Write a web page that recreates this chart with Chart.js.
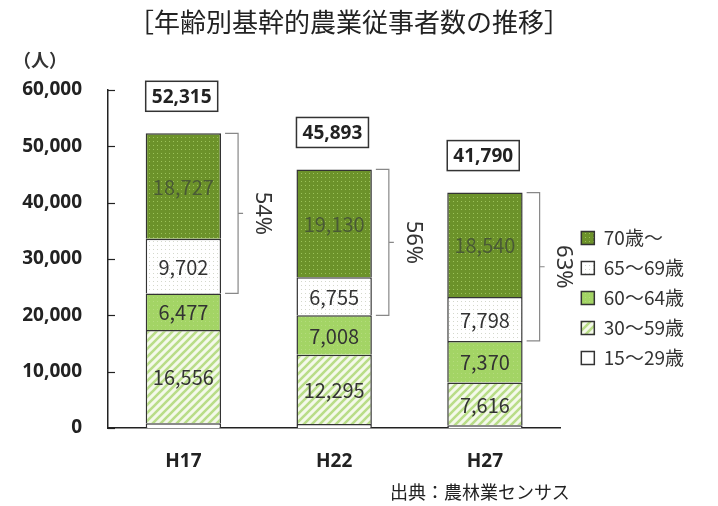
<!DOCTYPE html>
<html>
<head>
<meta charset="utf-8">
<script src="https://cdn.jsdelivr.net/npm/chart.js@4.4.0/dist/chart.umd.min.js"></script>
<style>
  html, body { margin: 0; padding: 0; background: #fff; }
  #wrap { position: relative; width: 718px; height: 506px; }
  #title { position: absolute; left: 0; top: 2px; width: 698px; text-align: center;
           font: 26px "Noto Sans CJK JP", sans-serif; color: #222; }
  #unit { position: absolute; left: 13px; top: 46px; font: bold 18px "Noto Sans CJK JP", sans-serif; color: #333; }
  #source { position: absolute; left: 390px; top: 478px; font: 18px "Noto Sans CJK JP", sans-serif; color: #222; }
  canvas { position: absolute; left: 0; top: 0; }
</style>
</head>
<body>
<div id="wrap">
  <canvas id="farmChart" width="718" height="506"></canvas>
  <div id="title">［年齢別基幹的農業従事者数の推移］</div>
  <div id="unit">（人）</div>
  <div id="source">出典：農林業センサス</div>
</div>
<script>
// values
var categories = ['H17', 'H22', 'H27'];
var age15_29 = [853, 705, 466];
var age30_59 = [16556, 12295, 7616];
var age60_64 = [6477, 7008, 7370];
var age65_69 = [9702, 6755, 7798];
var age70up = [18727, 19130, 18540];
var totals = [52315, 45893, 41790];
var seriesNames = ['15～29歳', '30～59歳', '60～64歳', '65～69歳', '70歳～'];
var yMax = 60000, yStep = 10000;

var FONT = '"Noto Sans CJK JP", "Noto Sans", sans-serif';

// small canvas patterns for the fills
function makePattern(w, h, draw) {
  var c = document.createElement('canvas');
  c.width = w; c.height = h;
  var g = c.getContext('2d');
  draw(g, w, h);
  return g.createPattern(c, 'repeat');
}
var ctx = document.getElementById('farmChart').getContext('2d');
var fill70 = makePattern(4, 4, function (g) {
  g.fillStyle = '#6c922a'; g.fillRect(0, 0, 4, 4);
  g.fillStyle = '#9cc35a'; g.fillRect(1, 1, 1, 1);
});
var fill65 = makePattern(4, 4, function (g) {
  g.fillStyle = '#ffffff'; g.fillRect(0, 0, 4, 4);
  g.fillStyle = '#d4d8cc'; g.fillRect(1, 1, 1, 1);
});
var fill60 = makePattern(4, 4, function (g) {
  g.fillStyle = '#a3d465'; g.fillRect(0, 0, 4, 4);
  g.fillStyle = '#b4dc7c'; g.fillRect(1, 1, 1, 1);
});
var fill30 = makePattern(8, 8, function (g) {
  g.fillStyle = '#f4f9ea'; g.fillRect(0, 0, 8, 8);
  g.strokeStyle = '#b9dd88'; g.lineWidth = 2.6;
  g.beginPath();
  g.moveTo(-2, 10); g.lineTo(10, -2);
  g.moveTo(-6, 6); g.lineTo(6, -6);
  g.moveTo(2, 14); g.lineTo(14, 2);
  g.stroke();
});
var fill15 = '#ffffff';

var fills = [fill15, fill30, fill60, fill65, fill70];
var seriesData = [age15_29, age30_59, age60_64, age65_69, age70up];

var datasets = [];
for (var s = 0; s < seriesData.length; s++) {
  datasets.push({
    label: seriesNames[s],
    data: seriesData[s],
    backgroundColor: fills[s],
    borderColor: '#333333',
    borderWidth: 1.5,
    barPercentage: 0.5,
    categoryPercentage: 1.0
  });
}

var fmt = function (v) { return Number(v).toLocaleString('en-US'); };

var extrasPlugin = {
  id: 'extras',
  afterLayout: function (chart) {
    var lg = chart.legend;
    lg.left += 10; lg.right += 10;
  },
  afterDatasetsDraw: function (chart) {
    var c = chart.ctx;
    var yScale = chart.scales.y;
    var area = chart.chartArea;
    c.save();
    // inward tick marks on the y axis
    c.strokeStyle = '#222'; c.lineWidth = 1.2;
    yScale.ticks.forEach(function (t, i) {
      var py = Math.round(yScale.getPixelForTick(i)) + 0.5;
      c.beginPath(); c.moveTo(area.left, py); c.lineTo(area.left + 7, py); c.stroke();
    });
    // segment value labels
    c.textAlign = 'center'; c.textBaseline = 'middle';
    c.font = '20px ' + FONT;
    for (var d = 1; d < chart.data.datasets.length; d++) {
      var meta = chart.getDatasetMeta(d);
      meta.data.forEach(function (bar, i) {
        var v = chart.data.datasets[d].data[i];
        c.fillStyle = d === 4 ? '#4a5a36' : '#333';
        c.fillText(fmt(v), bar.x, (bar.y + bar.base) / 2 + 1);
      });
    }
    // totals in boxes, brackets and share of 65+
    var topMeta = chart.getDatasetMeta(4);
    var m65 = chart.getDatasetMeta(3);
    topMeta.data.forEach(function (bar, i) {
      var half = bar.width / 2;
      var bw = 72, bh = 30;
      var bx = bar.x - half, by = bar.y - 22 - bh;
      c.fillStyle = '#fff';
      c.fillRect(bx, by, bw, bh);
      c.strokeStyle = '#333'; c.lineWidth = 1.5;
      c.strokeRect(bx, by, bw, bh);
      c.fillStyle = '#222';
      c.font = 'bold 19px "Noto Sans", sans-serif';
      c.fillText(fmt(totals[i]), bx + bw / 2, by + bh / 2 + 1);

      var right = bar.x + half;
      var top = bar.y, bottom = m65.data[i].base;
      var vx = right + 17;
      c.strokeStyle = '#888'; c.lineWidth = 1.2;
      c.beginPath();
      c.moveTo(right + 4, top); c.lineTo(vx, top); c.lineTo(vx, bottom); c.lineTo(right + 4, bottom);
      c.moveTo(vx, (top + bottom) / 2); c.lineTo(vx + 5, (top + bottom) / 2);
      c.stroke();

      var share = Math.round((age70up[i] + age65_69[i]) / totals[i] * 100) + '%';
      c.save();
      c.translate(right + 41, (top + bottom) / 2);
      c.rotate(Math.PI / 2);
      c.fillStyle = '#333';
      c.font = '22px "Noto Sans", sans-serif';
      c.fillText(share, 0, 0);
      c.restore();
    });
    c.restore();
  }
};

new Chart(ctx, {
  type: 'bar',
  data: { labels: categories, datasets: datasets },
  options: {
    responsive: false,
    animation: false,
    layout: { padding: { top: 90, right: 34, bottom: 0, left: 0 } },
    plugins: {
      legend: {
        position: 'right',
        reverse: true,
        labels: {
          boxWidth: 13,
          boxHeight: 13,
          padding: 11,
          color: '#333',
          font: { family: FONT, size: 19 }
        }
      },
      tooltip: { enabled: false }
    },
    scales: {
      x: {
        stacked: true,
        grid: { display: false, drawTicks: false },
        border: { display: true, color: '#222', width: 1.5 },
        ticks: { color: '#222', padding: 22, font: { family: '"Noto Sans", sans-serif', size: 19, weight: 'bold' } },
        afterFit: function (s) { s.height = 78; }
      },
      y: {
        stacked: true,
        min: 0, max: yMax,
        grid: { display: false, drawTicks: false },
        border: { display: true, color: '#222', width: 1.5 },
        ticks: {
          stepSize: yStep,
          color: '#222',
          padding: 26,
          font: { family: '"Noto Sans", sans-serif', size: 19, weight: 'bold' },
          callback: function (v) { return fmt(v); }
        },
        afterFit: function (s) { s.width = 108; }
      }
    }
  },
  plugins: [extrasPlugin]
});
</script>
</body>
</html>
